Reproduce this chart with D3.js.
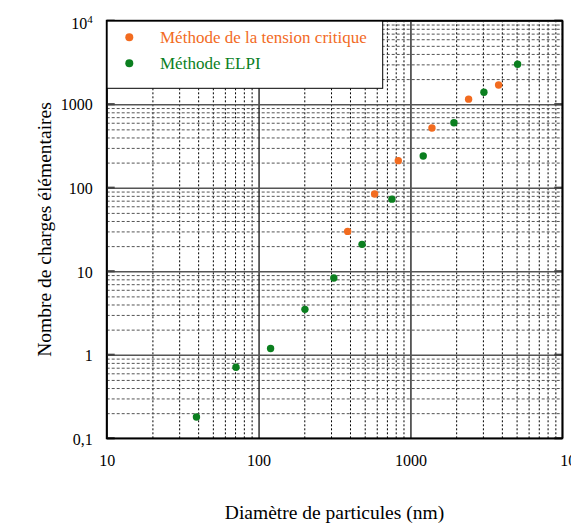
<!DOCTYPE html>
<html>
<head>
<meta charset="utf-8">
<script src="https://cdn.jsdelivr.net/npm/d3@7"></script>
<style>
  body { margin: 0; background: #fff; }
  svg { display: block; }
</style>
</head>
<body>
<div id="chart"></div>
<script>
// values
var xMajor = [10, 100, 1000, 10000],
    xLabels = ["10", "100", "1000", "10^4"],
    yMajor = [0.1, 1, 10, 100, 1000, 10000],
    yLabels = ["0,1", "1", "10", "100", "1000", "10^4"];

var seriesNames = ["Méthode de la tension critique", "Méthode ELPI"],
    seriesColors = ["#f26b1f", "#0b7f1f"];

var tensionD = [386, 581, 832, 1386, 2416, 3807],
    tensionN = [30, 84, 211, 520, 1150, 1700];
var elpiD = [39, 71, 120, 202, 313, 480, 755, 1214, 1933, 3048, 5078],
    elpiN = [0.18, 0.71, 1.19, 3.5, 8.3, 21, 73, 240, 600, 1390, 3010];

var outerWidth = 571, outerHeight = 525,
    margin = {top: 20.7, left: 106.7},
    width = 455.6,
    height = 417.6,
    font = "'Liberation Serif', 'Times New Roman', serif";

var svg = d3.select('#chart').append('svg')
    .attr('width', outerWidth)
    .attr('height', outerHeight);

var inner = svg.append('g')
    .attr('transform', 'translate(' + margin.left + ',' + margin.top + ')');

var x = d3.scaleLog().domain([10, 10000]).range([0, width]);
var y = d3.scaleLog().domain([0.1, 10000]).range([height, 0]);

function isDecade(d) { return Math.abs(Math.log10(d) - Math.round(Math.log10(d))) < 1e-9; }
var xMinor = x.ticks().filter(function(d) { return !isDecade(d); });
var yMinor = y.ticks().filter(function(d) { return !isDecade(d); });

// minor grid (dotted)
var gx = inner.append('g')
    .attr('transform', 'translate(0,' + height + ')')
    .call(d3.axisBottom(x).tickValues(xMinor).tickSize(-height).tickFormat(''));
gx.select('.domain').remove();
gx.selectAll('line').attr('stroke', '#000').attr('stroke-dasharray', '2,2');

var gy = inner.append('g')
    .call(d3.axisLeft(y).tickValues(yMinor).tickSize(-width).tickFormat(''));
gy.select('.domain').remove();
gy.selectAll('line').attr('stroke', '#555').attr('stroke-dasharray', '3,2');

// major grid (solid)
var gX = inner.append('g')
    .attr('transform', 'translate(0,' + height + ')')
    .call(d3.axisBottom(x).tickValues(xMajor).tickSize(-height).tickFormat(''));
gX.select('.domain').remove();
gX.selectAll('line').attr('stroke', '#222').attr('stroke-width', 1.4);

var gY = inner.append('g')
    .call(d3.axisLeft(y).tickValues(yMajor).tickSize(-width).tickFormat(''));
gY.select('.domain').remove();
gY.selectAll('line').attr('stroke', '#555').attr('stroke-width', 1.6);

// short inward marks on the side axes
[0, width].forEach(function(px) {
    inner.append('g').selectAll('line')
        .data(yMajor)
        .enter().append('line')
        .attr('x1', px)
        .attr('x2', px === 0 ? 8 : px - 8)
        .attr('y1', function(d) { return y(d); })
        .attr('y2', function(d) { return y(d); })
        .attr('stroke', '#444')
        .attr('stroke-width', 2.2);
});

// legend box
var legend = inner.append('g');
legend.append('rect')
    .attr('x', 0).attr('y', 0)
    .attr('width', 276).attr('height', 67.6)
    .attr('fill', '#fff')
    .attr('stroke', '#000')
    .attr('stroke-width', 1);

seriesNames.forEach(function(name, i) {
    legend.append('circle')
        .attr('cx', 22.6)
        .attr('cy', 16.6 + i * 26)
        .attr('r', 4)
        .attr('fill', seriesColors[i]);
    legend.append('text')
        .attr('x', 53.3)
        .attr('y', 22.6 + i * 26)
        .attr('fill', seriesColors[i])
        .style('font-family', font)
        .style('font-size', '17px')
        .text(name);
});

// plot frame
inner.append('rect')
    .attr('width', width)
    .attr('height', height)
    .attr('fill', 'none')
    .attr('stroke', '#000')
    .attr('stroke-width', 1.8);

// points
function drawSeries(xs, ys, color) {
    inner.append('g').selectAll('circle')
        .data(xs)
        .enter().append('circle')
        .attr('cx', function(d) { return x(d); })
        .attr('cy', function(d, i) { return y(ys[i]); })
        .attr('r', 3.7)
        .attr('fill', color);
}
drawSeries(tensionD, tensionN, seriesColors[0]);
drawSeries(elpiD, elpiN, seriesColors[1]);

// tick labels, "10^4" gets a superscript
function writeLabel(sel, label) {
    var parts = label.split('^');
    sel.text(parts[0]);
    if (parts.length > 1) {
        sel.append('tspan')
            .attr('dy', '-6')
            .style('font-size', '11px')
            .text(parts[1]);
    }
}

var ax = inner.append('g')
    .attr('transform', 'translate(0,' + height + ')')
    .call(d3.axisBottom(x).tickValues(xMajor).tickSize(0).tickPadding(16.5));
ax.select('.domain').remove();
ax.selectAll('text')
    .style('font-family', font)
    .style('font-size', '16px')
    .attr('fill', '#000')
    .each(function(d, i) {
        writeLabel(d3.select(this), xLabels[i]);
        if (i === xLabels.length - 1) d3.select(this).attr('text-anchor', 'start').attr('x', -2.5);
    });

var ay = inner.append('g')
    .call(d3.axisLeft(y).tickValues(yMajor).tickSize(0).tickPadding(14));
ay.select('.domain').remove();
ay.selectAll('text')
    .style('font-family', font)
    .style('font-size', '16px')
    .attr('fill', '#000')
    .attr('dy', '0.36em')
    .each(function(d, i) {
        writeLabel(d3.select(this), yLabels[i]);
        if (i === yLabels.length - 1) d3.select(this).attr('dy', '0.5em');
    });

// axis titles
svg.append('text')
    .attr('x', margin.left + width / 2)
    .attr('y', 519)
    .style('text-anchor', 'middle')
    .style('font-family', font)
    .style('font-size', '19.5px')
    .text('Diamètre de particules (nm)');

svg.append('text')
    .attr('transform', 'translate(51,' + (margin.top + height / 2) + ') rotate(-90)')
    .style('text-anchor', 'middle')
    .style('font-family', font)
    .style('font-size', '19.5px')
    .text('Nombre de charges élémentaires');
</script>
</body>
</html>
